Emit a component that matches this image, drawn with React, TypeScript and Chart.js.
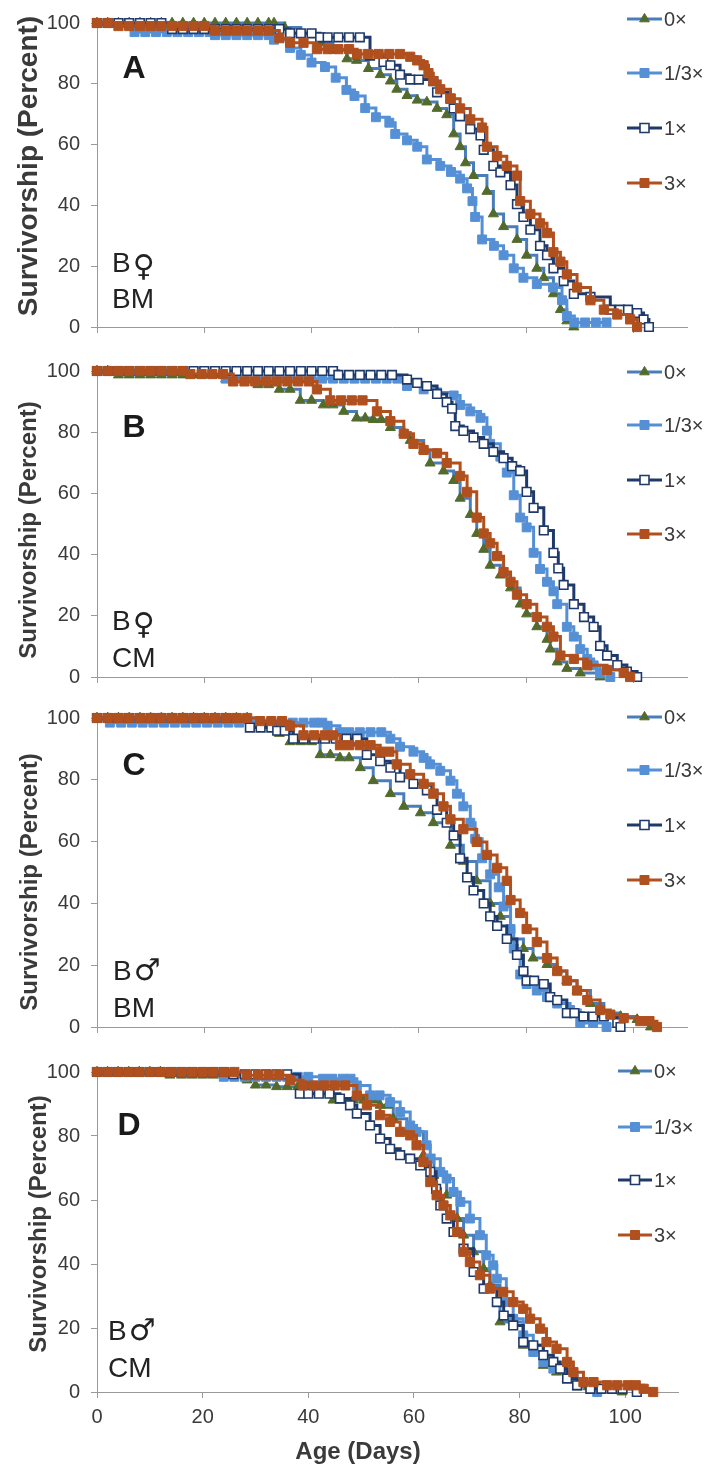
import React, { useEffect, useRef } from 'react';
import { Chart, registerables } from 'chart.js';

Chart.register(...registerables);

// ---------- shared labels ----------
const SERIES_LABELS = ['0×', '1/3×', '1×', '3×'];
const X_TICKS = [0, 20, 40, 60, 80, 100];
const Y_TICKS = [0, 20, 40, 60, 80, 100];
const Y_TITLE = 'Survivorship (Percent)';
const X_TITLE = 'Age (Days)';

// ---------- Panel A (B♀ BM) ----------
const A_ZERO_AGE = [0, 2, 4, 6, 8, 10, 12, 14, 16, 18, 20, 22, 24, 26, 28, 30, 32, 33, 35, 38, 41.6, 44, 46.6, 48.4, 50.6, 52.8, 54.7, 55.9, 57.8, 59.7, 61.5, 63.4, 65.2, 66.5, 67.7, 68.7, 70.2, 72.7, 73.9, 75.8, 78.3, 80.1, 82, 83.3, 85.1, 86.4, 87.6, 88.9];
const A_ZERO_SURV = [100, 100, 100, 100, 100, 100, 100, 100, 100, 100, 100, 100, 100, 100, 100, 100, 100, 100, 98.5, 96.5, 93.5, 91, 88.2, 87.7, 85, 83, 80.9, 78.2, 76.1, 74.6, 74, 71.9, 69.8, 63.5, 59.3, 54, 49.8, 44.6, 37.2, 33, 28.8, 23.6, 19.3, 16.2, 10.9, 5.7, 2, 0];
const A_THIRD_AGE = [0, 2, 4, 6, 7, 9, 11, 13, 15, 17, 19, 21, 22, 24, 26, 28, 30, 32, 33, 36, 38, 40, 42.5, 44.5, 46.5, 48, 50, 52, 54.5, 55.6, 57.8, 59.7, 61.5, 64, 66, 67.7, 69, 70, 70.5, 71.8, 74, 75.8, 77.7, 79.5, 82, 85, 86.7, 87.6, 89, 91, 93, 95];
const A_THIRD_SURV = [100, 100, 100, 100, 97, 97, 97, 97, 97, 97, 97, 97, 96, 96, 96, 96, 96, 96, 94.5, 91.8, 89.5, 87, 85.5, 82, 78, 76, 72, 69, 67.2, 63.5, 61.4, 59.3, 55.1, 53, 51, 48.8, 45.6, 41.4, 36.2, 28.8, 26.7, 23.6, 19.3, 16.2, 14.1, 13, 8.8, 3.6, 1.5, 1.5, 1.5, 1.5];
const A_ONE_AGE = [0, 2, 4, 6, 8, 10, 12, 14, 16, 18, 20, 22, 24, 26, 28, 30, 32, 34, 36, 38, 40, 41.6, 43, 45, 47, 49, 50.9, 53.4, 54.7, 56.5, 58.4, 60, 62.7, 63.4, 65.9, 66.5, 67.7, 69.6, 71.5, 72.1, 73.9, 75.2, 77.1, 78.3, 79.5, 80.8, 82.6, 83.9, 85.1, 87, 88.9, 92, 95.7, 97.5, 99, 100.7, 101.9, 102.9];
const A_ONE_SURV = [100, 100, 100, 100, 100, 100, 100, 98, 98, 98, 98, 98, 98, 98, 98, 98, 98, 98, 96.6, 96.6, 96.6, 95.3, 95.3, 95.3, 95.3, 95.3, 89.3, 87.2, 86.1, 83, 81.4, 81.4, 80.9, 77.2, 75.1, 71.9, 69.3, 65.1, 63, 58.3, 53, 50.9, 46.7, 40.4, 36.2, 32, 26.7, 23.6, 19.3, 15.1, 10.9, 9.9, 5.7, 5.7, 5.7, 4.6, 2.5, 0];
const A_THREE_AGE = [0, 2, 4, 6, 8, 10, 12, 14, 16, 18, 20, 22, 24, 26, 28, 30, 32, 34, 36, 38.5, 41, 43, 45, 47, 48.5, 50.5, 52.5, 54.5, 56.5, 58.4, 59.7, 60.9, 61.8, 62.7, 64, 65.9, 67.7, 69.6, 71.8, 72.7, 74.6, 76.4, 78.3, 78.9, 80.8, 82.6, 83.9, 85.1, 86.4, 87.6, 89.5, 92, 94.5, 97, 99.4, 100.7];
const A_THREE_SURV = [100, 100, 99, 99, 99, 99, 99, 99, 99, 99, 99, 97.5, 97.5, 97.5, 97.5, 97.5, 97.5, 95, 93.5, 93.5, 91.4, 91.4, 91.4, 91.4, 89.8, 89.8, 89.8, 89.8, 89.8, 88.9, 87.7, 86.1, 83.5, 80.9, 78.2, 75.1, 71.9, 68.3, 65.6, 59.3, 56.2, 53, 49.8, 41.4, 37.2, 34.1, 30.9, 24.6, 21.5, 17.3, 13, 8.8, 5.7, 4.1, 2.5, 0];

// ---------- Panel B (B♀ CM) ----------
const B_ZERO_AGE = [0, 2, 4, 6, 8, 10, 12, 14, 16, 18, 20, 22, 24, 26, 28, 30, 32, 34, 36, 37.9, 40, 42.2, 44, 46, 48.4, 50, 51.5, 53, 54.7, 57.2, 58.4, 60.9, 62.1, 64.6, 66.5, 67.7, 69.6, 70.8, 72.1, 73.3, 75.2, 77.1, 78.9, 80.1, 82, 83.9, 84.5, 85.8, 87.6, 90.1, 93.8];
const B_ZERO_SURV = [100, 100, 98.7, 98.7, 98.7, 98.7, 98.7, 98.7, 98.7, 98.7, 98.7, 98.7, 97.4, 97.4, 97.4, 95.5, 95.5, 94, 94, 90.4, 90.4, 88.9, 88.9, 86.8, 84.6, 84.6, 84.1, 84.1, 81.5, 79.9, 77.3, 74.2, 69.9, 67.3, 64.2, 58.4, 53.1, 46.9, 41.7, 36.5, 33.3, 29.1, 23.8, 20.6, 16.4, 12.3, 9.1, 4.9, 2.8, 1.3, 0];
const B_THIRD_AGE = [0, 2, 4, 6, 8, 10, 12, 14, 16, 18, 20, 22, 24, 26, 28, 30, 32, 34, 36, 38, 40, 42, 44, 46, 48, 50, 52, 54, 56, 57.8, 60.9, 63.4, 66.5, 67.7, 69.6, 71.5, 72.7, 73.3, 75.2, 76.4, 77.7, 78.9, 80.1, 81.4, 82.6, 83.9, 85.1, 85.8, 87.6, 88.9, 90.1, 91.4, 92.6, 93.8, 95.7];
const B_THIRD_SURV = [100, 100, 100, 100, 100, 100, 100, 100, 100, 100, 100, 100, 97.5, 97.5, 97.5, 97.5, 97.5, 97.5, 97.5, 97.5, 97.5, 97.5, 97.5, 97.5, 97.5, 97.5, 97.5, 97.5, 97.5, 95.1, 94, 93, 92, 88.9, 86.8, 84.7, 80.5, 76.2, 72, 66.8, 59.4, 52.1, 48.9, 40.6, 35.3, 31.1, 28, 23.8, 16.4, 13.2, 9.1, 5.9, 3.8, 1.2, 0];
const B_ONE_AGE = [0, 2, 4, 6, 8, 10, 12, 14, 16, 18, 20, 22, 24, 26, 28, 30, 32, 34, 36, 38, 40, 42, 44, 45, 47, 49, 51, 53, 55, 57.8, 59.7, 61.5, 63.4, 65.2, 66.2, 66.8, 68.3, 70.2, 72.1, 73.9, 75.8, 77.4, 78.9, 80.1, 81.4, 83.3, 85.1, 86, 87, 88.9, 90.8, 92.6, 93.8, 95.1, 97, 98.8, 100.7];
const B_ONE_SURV = [100, 100, 100, 100, 100, 100, 100, 100, 100, 100, 100, 100, 100, 100, 100, 100, 100, 100, 100, 100, 100, 100, 100, 98.7, 98.7, 98.7, 98.7, 98.7, 98.7, 97.2, 96.1, 95.1, 92.5, 89.8, 87.7, 82, 80.4, 78.3, 76.2, 73.6, 71.5, 68.9, 67.3, 60.5, 55.3, 47.9, 40.6, 35.5, 30.1, 23.8, 19.6, 16.4, 10.2, 7, 3.9, 1.8, 0];
const B_THREE_AGE = [0, 2, 4, 6, 8, 10, 12, 14, 16, 17.4, 19.5, 21.5, 23.5, 25.4, 27.5, 29.5, 31.5, 33.5, 35.5, 37.5, 39.5, 41, 43.5, 45.5, 47.5, 49.5, 52.2, 54.7, 57.2, 59, 60.9, 63.4, 65.2, 67.7, 69, 70.8, 72.1, 73.3, 74.6, 75.8, 77.1, 78.3, 80.1, 82, 83.9, 85.1, 86.4, 88.9, 91.4, 95.1, 98.2, 99.4];
const B_THREE_SURV = [100, 100, 100, 100, 100, 100, 100, 100, 100, 99, 99, 99, 99, 96.6, 96.6, 96.6, 96.6, 96.6, 96.6, 96.6, 96.6, 94, 90.4, 90.4, 90.4, 90.4, 86.8, 83.6, 79.5, 76.2, 74.2, 73.1, 69.9, 65.7, 60.5, 52.1, 46.9, 43.7, 39.5, 34.3, 31.1, 26.9, 23.8, 19.6, 16.4, 13.2, 7, 5.9, 3.8, 2.3, 1.3, 0];

// ---------- Panel C (B♂ BM) ----------
const C_ZERO_AGE = [0, 2, 4, 6, 8, 10, 12, 14, 16, 18, 20, 22, 24, 26, 28, 30, 32, 34, 36, 38, 40, 41.6, 43.5, 45.3, 47, 49.1, 51.5, 54.7, 57.2, 60.3, 62.7, 65.9, 68.3, 70.8, 73.3, 75.2, 77.1, 79.5, 81.3, 83.9, 85.8, 87.6, 89.5, 92, 94.5, 97.6, 100.7, 103.2];
const C_ZERO_SURV = [100, 100, 100, 100, 100, 100, 100, 100, 100, 100, 100, 100, 100, 100, 100, 98, 98, 95, 92.3, 92.3, 92.3, 88.1, 88.1, 87.1, 87.1, 83.9, 79.7, 75.5, 71.4, 69.3, 66.1, 58.8, 53.6, 47.3, 40, 35.8, 28.5, 25.4, 22.3, 20.2, 18.1, 15, 11.8, 7.6, 4.5, 3.4, 2.4, 0];
const C_THIRD_AGE = [0, 2.4, 4.5, 6.5, 8.5, 10.5, 12.5, 14.5, 16.5, 18.5, 20.5, 22.5, 24.5, 26.5, 28.5, 30.5, 32.5, 34.5, 36.5, 38.5, 40.5, 42, 43, 45.3, 47, 49, 51, 53, 54.7, 56.5, 59, 60.9, 62.1, 64, 65.9, 67.1, 68.3, 69.6, 70.5, 71.8, 73.3, 74.9, 75.8, 77.1, 77.7, 78.9, 80.1, 82, 83.9, 85.8, 88.2, 90.1, 92.5, 95];
const C_THIRD_SURV = [100, 98.5, 98.5, 98.5, 98.5, 98.5, 98.5, 98.5, 98.5, 98.5, 98.5, 98.5, 98.5, 98.5, 98.5, 98.5, 98.5, 98.5, 98.5, 98.5, 98.5, 98.5, 97.5, 95.4, 95.4, 95.4, 95.4, 95.4, 93.3, 90.7, 89.1, 87.1, 85, 82.9, 79.7, 75.5, 71.4, 66.1, 60.9, 54.6, 49.4, 45.2, 39, 31.7, 25.4, 17, 13.9, 11.8, 9.7, 7.6, 5.5, 1.3, 1.3, 0];
const C_ONE_AGE = [0, 2, 4, 6, 8, 10, 12, 14, 16, 18, 20, 22, 24, 26, 28.5, 30.5, 32.5, 33.6, 35, 36.6, 38.5, 40.5, 42.5, 44.5, 46.5, 48.5, 50.3, 52.8, 54.7, 56.5, 59, 61.5, 63.4, 65.2, 66.5, 67.7, 69, 70.2, 72.1, 73.3, 74.6, 76.4, 78.3, 79.5, 80.1, 81.5, 83.3, 84.5, 85.8, 87.6, 89, 90.7, 92.5, 94.5, 97, 97.6];
const C_ONE_SURV = [100, 100, 100, 100, 100, 100, 100, 100, 100, 100, 100, 100, 100, 100, 96.9, 96.9, 96.9, 95.9, 95.9, 93.3, 93.3, 93.3, 93.3, 93.3, 93.3, 93.3, 88.1, 86, 83.9, 80.8, 78.7, 76.6, 70.3, 66.1, 62, 54.6, 48.4, 44.2, 40, 35.8, 32.7, 28.5, 23.3, 18.1, 15, 15, 13.9, 9.7, 8.7, 4.5, 4.5, 3.4, 3.4, 3.4, 1.3, 0];
const C_THREE_AGE = [0, 2, 4, 6, 8, 10, 12, 14, 16, 18, 20, 22, 24, 26, 28, 30.4, 32.5, 34.5, 36, 38.5, 40.5, 42.5, 44, 45.3, 47, 49, 51, 52.8, 54.5, 55.9, 58.4, 60.9, 62.7, 64.6, 65.9, 68.3, 70.8, 72.7, 74.6, 76.4, 77.1, 78.9, 80.1, 82, 83.9, 85.8, 87.6, 89.5, 91.4, 93.8, 95.7, 98.2, 101.3, 103, 104.4];
const C_THREE_SURV = [100, 100, 100, 100, 100, 100, 100, 100, 100, 100, 100, 100, 100, 100, 100, 99, 99, 99, 97.5, 94.4, 94.4, 94.4, 94.4, 91.2, 91.2, 91.2, 91.2, 89.1, 89.1, 85, 81.8, 78.7, 75.5, 71.4, 67.2, 64, 59.9, 55.7, 51.5, 47.3, 41.1, 36.9, 31.7, 27.5, 22.3, 18.1, 15, 11.8, 8.7, 5.5, 4, 2.9, 1.9, 1.9, 0];

// ---------- Panel D (B♂ CM) ----------
const D_ZERO_AGE = [0, 2, 4, 6, 8, 10, 12, 13.8, 16, 18, 20, 22, 24, 26, 28.4, 30, 32, 34, 36, 38, 40, 42, 44.7, 46.5, 48.5, 50.5, 52.5, 53.6, 55, 56.1, 58.7, 61.8, 63.8, 66.2, 68.2, 69.4, 71.3, 73.2, 74.4, 76.3, 80.7, 84.5, 87, 89, 90.9, 93, 95, 97, 99.4];
const D_ZERO_SURV = [100, 100, 100, 100, 100, 100, 100, 99, 99, 99, 99, 99, 99, 99, 97.5, 95.9, 95.9, 95.4, 95.4, 95.4, 95.4, 95.4, 91.2, 91.2, 91.2, 91.2, 91.2, 89.6, 89.6, 85.4, 81.3, 74, 67.7, 61.5, 54.2, 49, 43.8, 38.5, 33.3, 21.9, 14.6, 8.3, 6.2, 4.2, 1.6, 1.6, 1.6, 1.6, 0];
const D_THIRD_AGE = [0, 2, 4, 6, 8, 10, 12, 14, 16, 18, 20, 22, 24, 26, 28, 30, 32, 34, 36, 38, 40, 42.8, 44.5, 46.5, 48, 49.2, 51.7, 53.5, 55.5, 57.4, 59.3, 60.5, 62.4, 63.1, 65, 66.2, 67.5, 68.8, 70.6, 72.5, 73.7, 75, 75.7, 77.5, 78.8, 80.7, 82.6, 84.5, 86.4, 89, 90.9, 94.7];
const D_THIRD_SURV = [100, 100, 100, 100, 100, 100, 100, 100, 100, 100, 100, 100, 98.5, 98.5, 98.5, 98.5, 98.5, 98.5, 98.5, 98.5, 98.5, 97.9, 97.9, 97.9, 97.9, 95.8, 92.7, 92.7, 90.6, 87.5, 83.3, 81.3, 77.1, 72.9, 68.8, 66.7, 62.5, 59.4, 54.2, 49, 42.7, 39.6, 35.4, 28.1, 22.9, 17.7, 12.5, 9.4, 7.3, 5.2, 2.1, 0];
const D_ONE_AGE = [0, 2, 4, 6, 8, 10, 12, 14, 16, 18, 20, 22, 24, 25.8, 28, 30, 32, 34, 36, 38.4, 40, 42, 44, 46, 47.9, 49.2, 51.7, 53.6, 55.5, 57.4, 59.3, 61.2, 63.1, 64.2, 65, 66.2, 67.5, 69.4, 71.3, 73.2, 75.7, 77, 78.8, 80.7, 82.6, 84.5, 86.4, 87.7, 89, 90.9, 93.4, 95.5, 97.5, 99.5, 102.2];
const D_ONE_SURV = [100, 100, 100, 100, 100, 100, 100, 100, 100, 100, 100, 100, 100, 99.3, 99.3, 99.3, 99.3, 99.3, 99.3, 93.2, 93.2, 93.2, 93.2, 91.7, 89.6, 87, 83.3, 79.2, 76, 74, 72.9, 70.8, 68.8, 63.5, 58.3, 54.2, 50, 44.8, 37.5, 32.3, 28.1, 23.9, 20.8, 15.6, 14.6, 11.5, 9.4, 7.3, 4.2, 2.1, 1, 1, 1, 1, 0];
const D_THREE_AGE = [0, 2, 4, 6, 8, 10, 12, 14, 16, 18, 20, 22, 24, 26, 28.4, 30.5, 32.5, 34.5, 36.6, 39, 41, 43, 45, 47, 49.2, 51.1, 53.6, 55.5, 57.4, 59.3, 60.5, 61.8, 63.1, 64.3, 65.6, 66.9, 68.2, 69.4, 70.6, 72.5, 74.4, 76.9, 78.8, 80.7, 82, 83.9, 85.1, 87, 89, 90.2, 92.1, 94, 96.6, 98.5, 100.5, 102, 103.5, 105.3];
const D_THREE_SURV = [100, 100, 100, 100, 100, 100, 100, 100, 100, 100, 100, 100, 100, 100, 99, 99, 99, 99, 97.5, 95.8, 95.8, 95.8, 95.8, 95.8, 92.7, 89.6, 86.5, 84.4, 81.3, 80.2, 77.1, 71.9, 65.6, 61.5, 58.3, 55.2, 50, 43.8, 40.6, 36.5, 32.3, 31.3, 28.1, 26, 22.9, 19.8, 15.6, 13.5, 9.4, 6.2, 3.1, 3.1, 2.1, 2.1, 2.1, 2.1, 1, 0];

// ---------- styles ----------
const FONT = "'Liberation Sans', Arial, 'DejaVu Sans', sans-serif";
const SYMBOL_FONT = "'DejaVu Sans', 'Noto Sans', sans-serif";
const AXIS_COLOR = '#9a9a9a';
const TEXT_COLOR = '#3a3a3a';
const LINE_COLORS = ['#4a7ebb', '#5590d6', '#1f3a6a', '#b0501e'];
const MARKER_FILL = ['#526b2c', '#5590d6', '#ffffff', '#b0501e'];
const MARKER_STROKE = ['#526b2c', '#5590d6', '#1f3a6a', '#b0501e'];
const MARKER_STYLE = ['triangle', 'rect', 'rect', 'rect'];
const MARKER_RADIUS = [5.8, 6.3, 6.1, 6.5];
const MARKER_BORDER = [1, 1, 1.6, 1];

type Panel = {
  letter: string;
  sexLetter: string;
  sexSymbol: string;
  medium: string;
  series: { x: number[]; y: number[] }[];
  canvasTop: number;
  canvasHeight: number;
  plotTop: number;
  plotBottom: number;
  plotRight: number;
  showX: boolean;
  yTitleSize: number;
  yTitleX: number;
  yTitleY: number;
  letterX: number;
  letterBase: number;
  labelX: number;
  labelBase1: number;
  labelBase2: number;
  legendX0: number;
  legendX1: number;
  legendTextX: number;
  legendY: number[];
};

const PANELS: Panel[] = [
  {
    letter: 'A', sexLetter: 'B', sexSymbol: '♀', medium: 'BM',
    series: [
      { x: A_ZERO_AGE, y: A_ZERO_SURV },
      { x: A_THIRD_AGE, y: A_THIRD_SURV },
      { x: A_ONE_AGE, y: A_ONE_SURV },
      { x: A_THREE_AGE, y: A_THREE_SURV },
    ],
    canvasTop: 0, canvasHeight: 350, plotTop: 21, plotBottom: 338, plotRight: 687, showX: false,
    yTitleSize: 28, yTitleX: 29, yTitleY: 166,
    letterX: 134, letterBase: 78, labelX: 112, labelBase1: 272, labelBase2: 308,
    legendX0: 627, legendX1: 662, legendTextX: 664, legendY: [19, 73, 128, 183],
  },
  {
    letter: 'B', sexLetter: 'B', sexSymbol: '♀', medium: 'CM',
    series: [
      { x: B_ZERO_AGE, y: B_ZERO_SURV },
      { x: B_THIRD_AGE, y: B_THIRD_SURV },
      { x: B_ONE_AGE, y: B_ONE_SURV },
      { x: B_THREE_AGE, y: B_THREE_SURV },
    ],
    canvasTop: 345, canvasHeight: 355, plotTop: 371, plotBottom: 689, plotRight: 687, showX: false,
    yTitleSize: 24, yTitleX: 29, yTitleY: 530,
    letterX: 134, letterBase: 437, labelX: 112, labelBase1: 630, labelBase2: 667,
    legendX0: 627, legendX1: 662, legendTextX: 664, legendY: [372, 425, 480, 534],
  },
  {
    letter: 'C', sexLetter: 'B', sexSymbol: '♂', medium: 'BM',
    series: [
      { x: C_ZERO_AGE, y: C_ZERO_SURV },
      { x: C_THIRD_AGE, y: C_THIRD_SURV },
      { x: C_ONE_AGE, y: C_ONE_SURV },
      { x: C_THREE_AGE, y: C_THREE_SURV },
    ],
    canvasTop: 695, canvasHeight: 355, plotTop: 717, plotBottom: 1036, plotRight: 687, showX: false,
    yTitleSize: 24, yTitleX: 30, yTitleY: 882,
    letterX: 134, letterBase: 775, labelX: 113, labelBase1: 980, labelBase2: 1017,
    legendX0: 627, legendX1: 662, legendTextX: 664, legendY: [717, 770, 825, 880],
  },
  {
    letter: 'D', sexLetter: 'B', sexSymbol: '♂', medium: 'CM',
    series: [
      { x: D_ZERO_AGE, y: D_ZERO_SURV },
      { x: D_THIRD_AGE, y: D_THIRD_SURV },
      { x: D_ONE_AGE, y: D_ONE_SURV },
      { x: D_THREE_AGE, y: D_THREE_SURV },
    ],
    canvasTop: 1045, canvasHeight: 422, plotTop: 1072, plotBottom: 1392, plotRight: 678, showX: true,
    yTitleSize: 24, yTitleX: 39, yTitleY: 1224,
    letterX: 129, letterBase: 1135, labelX: 108, labelBase1: 1340, labelBase2: 1377,
    legendX0: 618, legendX1: 652, legendTextX: 654, legendY: [1071, 1127, 1180, 1235],
  },
];

function drawLegendMarker(ctx: CanvasRenderingContext2D, i: number, x: number, y: number) {
  ctx.save();
  ctx.fillStyle = MARKER_FILL[i];
  ctx.strokeStyle = MARKER_STROKE[i];
  ctx.lineWidth = MARKER_BORDER[i];
  ctx.beginPath();
  if (MARKER_STYLE[i] === 'triangle') {
    const r = 5.6;
    ctx.moveTo(x, y - r);
    ctx.lineTo(x + r * 0.866, y + r * 0.5);
    ctx.lineTo(x - r * 0.866, y + r * 0.5);
    ctx.closePath();
  } else {
    const s = 4.5;
    ctx.rect(x - s, y - s, 2 * s, 2 * s);
  }
  ctx.fill();
  ctx.stroke();
  ctx.restore();
}

function overlayPlugin(p: Panel) {
  return {
    id: 'overlay' + p.letter,
    afterDraw(chart: any) {
      const ctx: CanvasRenderingContext2D = chart.ctx;
      const oy = p.canvasTop;
      // y axis title
      ctx.save();
      ctx.translate(p.yTitleX, p.yTitleY - oy);
      ctx.rotate(-Math.PI / 2);
      ctx.font = `bold ${p.yTitleSize}px ${FONT}`;
      ctx.fillStyle = TEXT_COLOR;
      ctx.textAlign = 'center';
      ctx.textBaseline = 'middle';
      ctx.fillText(Y_TITLE, 0, 0);
      ctx.restore();

      // panel letter
      ctx.save();
      ctx.font = `bold 32px ${FONT}`;
      ctx.fillStyle = '#1a1a1a';
      ctx.textAlign = 'center';
      ctx.textBaseline = 'alphabetic';
      ctx.fillText(p.letter, p.letterX, p.letterBase - oy);
      // sex / medium labels
      ctx.font = `28px ${FONT}`;
      ctx.fillStyle = '#222222';
      ctx.textAlign = 'left';
      ctx.fillText(p.sexLetter, p.labelX, p.labelBase1 - oy);
      const bw = ctx.measureText(p.sexLetter).width;
      ctx.font = `30px ${SYMBOL_FONT}`;
      ctx.fillText(p.sexSymbol, p.labelX + bw + 2, p.labelBase1 - oy + (p.sexSymbol === '♀' ? 4 : 0));
      ctx.font = `28px ${FONT}`;
      ctx.fillText(p.medium, p.labelX, p.labelBase2 - oy);
      ctx.restore();

      // legend
      for (let i = 0; i < 4; i++) {
        const y = p.legendY[i] - oy;
        ctx.save();
        ctx.strokeStyle = LINE_COLORS[i];
        ctx.lineWidth = 3;
        ctx.beginPath();
        ctx.moveTo(p.legendX0, y);
        ctx.lineTo(p.legendX1, y);
        ctx.stroke();
        ctx.restore();
        drawLegendMarker(ctx, i, (p.legendX0 + p.legendX1) / 2, y);
        ctx.save();
        ctx.font = `20px ${FONT}`;
        ctx.fillStyle = TEXT_COLOR;
        ctx.textAlign = 'left';
        ctx.textBaseline = 'middle';
        ctx.fillText(SERIES_LABELS[i], p.legendTextX, y + 1);
        ctx.restore();
      }

      // x axis title
      if (p.showX) {
        ctx.save();
        ctx.font = `bold 24px ${FONT}`;
        ctx.fillStyle = TEXT_COLOR;
        ctx.textAlign = 'center';
        ctx.textBaseline = 'alphabetic';
        ctx.fillText(X_TITLE, 358, 1459 - oy);
        ctx.restore();
      }
    },
  };
}

function PanelChart({ p }: { p: Panel }) {
  const ref = useRef<HTMLCanvasElement | null>(null);
  useEffect(() => {
    if (!ref.current) return;
    const datasets = p.series.map((s, i) => ({
      label: SERIES_LABELS[i],
      data: s.x.map((x, j) => ({ x, y: s.y[j] })),
      stepped: true,
      borderColor: LINE_COLORS[i],
      borderWidth: 3,
      pointStyle: MARKER_STYLE[i],
      pointRadius: MARKER_RADIUS[i],
      pointBackgroundColor: MARKER_FILL[i],
      pointBorderColor: MARKER_STROKE[i],
      pointBorderWidth: MARKER_BORDER[i],
      fill: false,
      clip: false,
      order: 3 - i,
    }));
    const axisHeight = p.canvasTop + p.canvasHeight - p.plotBottom;
    const chart = new Chart(ref.current, {
      type: 'line',
      data: { datasets } as any,
      options: {
        animation: false,
        responsive: false,
        devicePixelRatio: 1,
        events: [],
        layout: { padding: { top: p.plotTop - p.canvasTop, right: 706 - p.plotRight, left: 0, bottom: 0 } },
        plugins: { legend: { display: false }, tooltip: { enabled: false } },
        scales: {
          x: {
            type: 'linear',
            min: 0,
            max: 110,
            afterBuildTicks: (s: any) => { s.ticks = X_TICKS.map((v) => ({ value: v })); },
            afterFit: (s: any) => { s.height = axisHeight; },
            grid: { drawOnChartArea: false, drawTicks: true, tickLength: 6, color: AXIS_COLOR, lineWidth: 1 },
            border: { display: true, color: AXIS_COLOR, width: 1 },
            ticks: { display: p.showX, color: TEXT_COLOR, font: { family: FONT, size: 20 }, padding: 7, maxRotation: 0 },
          },
          y: {
            type: 'linear',
            min: 0,
            max: 100,
            afterBuildTicks: (s: any) => { s.ticks = Y_TICKS.map((v) => ({ value: v })); },
            afterFit: (s: any) => { s.width = 97; },
            grid: { drawOnChartArea: false, drawTicks: true, tickLength: 6, color: AXIS_COLOR, lineWidth: 1 },
            border: { display: true, color: AXIS_COLOR, width: 1 },
            ticks: { color: TEXT_COLOR, font: { family: FONT, size: 20 }, padding: 11 },
          },
        },
      } as any,
      plugins: [overlayPlugin(p)],
    });
    return () => chart.destroy();
  }, [p]);
  return (
    <canvas
      ref={ref}
      width={706}
      height={p.canvasHeight}
      style={{ position: 'absolute', left: 0, top: p.canvasTop, width: 706, height: p.canvasHeight }}
    />
  );
}

export default function App() {
  return (
    <div style={{ position: 'absolute', left: 0, top: 0, width: 706, height: 1467, background: '#ffffff', overflow: 'hidden' }}>
      {PANELS.map((p) => (
        <PanelChart key={p.letter} p={p} />
      ))}
    </div>
  );
}
